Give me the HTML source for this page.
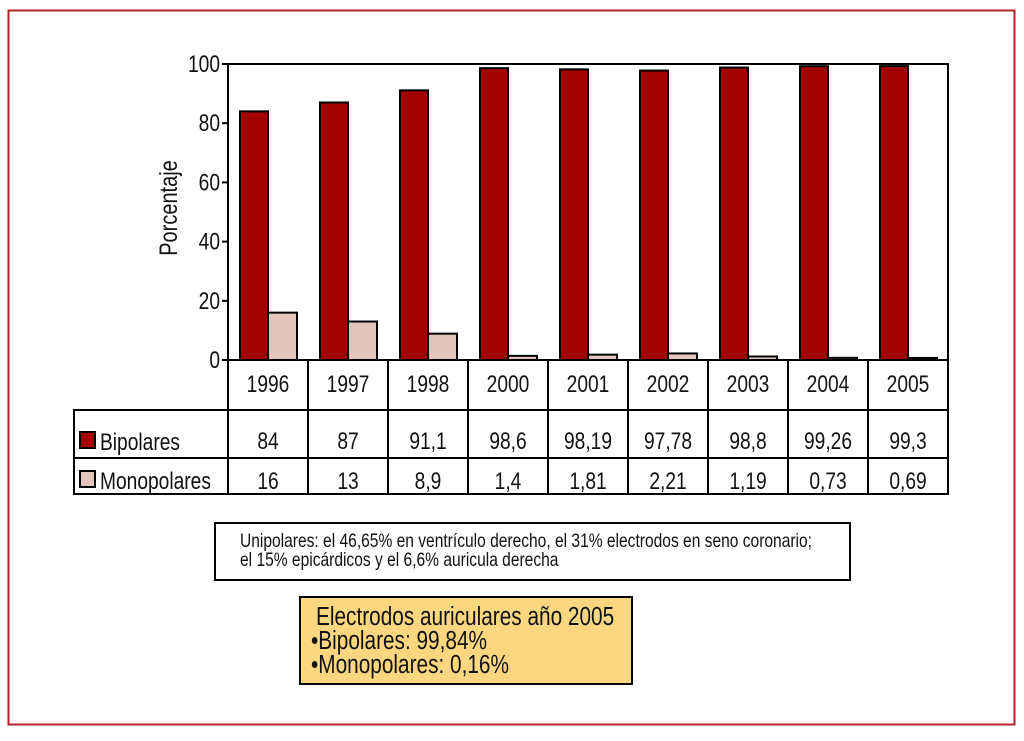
<!DOCTYPE html>
<html><head><meta charset="utf-8"><style>
body{margin:0;background:#fff;width:1024px;height:736px;overflow:hidden}
svg text{font-family:"Liberation Sans Narrow","Liberation Sans",sans-serif;fill:#111}
</style></head><body>
<svg width="1024" height="736">
<rect x="8.5" y="10.5" width="1006" height="714" fill="#fff" stroke="#b0232a" stroke-width="2"/>
<g id="plot"></g>
<rect x="215" y="523" width="635" height="57" fill="#fff" stroke="#000" stroke-width="2"/>
<text transform="translate(240,547) scale(0.82,1)" font-size="19">Unipolares: el 46,65% en ventrículo derecho, el 31% electrodos en seno coronario;</text>
<text transform="translate(240,566) scale(0.82,1)" font-size="19">el 15% epicárdicos y el 6,6% auricula derecha</text>
<rect x="300" y="597" width="332" height="87" fill="#fdd77f" stroke="#000" stroke-width="2"/>
<text transform="translate(316,625) scale(0.8,1)" font-size="26">Electrodos auriculares año 2005</text>
<text transform="translate(311,649) scale(0.8,1)" font-size="26">•Bipolares: 99,84%</text>
<text transform="translate(311,673) scale(0.8,1)" font-size="26">•Monopolares: 0,16%</text>
</svg>
<script>
const categories=["1996","1997","1998","2000","2001","2002","2003","2004","2005"];
const bipolares=[84,87,91.1,98.6,98.19,97.78,98.8,99.26,99.3];
const monopolares=[16,13,8.9,1.4,1.81,2.21,1.19,0.73,0.69];
const bipLabels=["84","87","91,1","98,6","98,19","97,78","98,8","99,26","99,3"];
const monLabels=["16","13","8,9","1,4","1,81","2,21","1,19","0,73","0,69"];
const yTicks=[0,20,40,60,80,100];
const NS="http://www.w3.org/2000/svg";
const g=document.getElementById('plot');
const X0=228,X1=948,Y0=360,Y1=64;
const bw=(X1-X0)/categories.length;
const y=v=>Y0-(v/100)*(Y0-Y1);
const x=i=>X0+i*bw;
const SX=0.8;
function mk(t,a,p){const e=document.createElementNS(NS,t);for(const k in a)e.setAttribute(k,a[k]);(p||g).appendChild(e);return e;}
function tx(px,py,str,size,anchor){const e=mk('text',{transform:`translate(${px},${py}) scale(${SX},1)`,'font-size':size,'text-anchor':anchor||'start'});e.textContent=str;return e;}
let r=mk('rect',{x:X0,y:Y1,width:X1-X0,height:Y0-Y1,fill:'#fff',stroke:'#000','stroke-width':2});


yTicks.forEach(v=>{
 let l=mk('line',{x1:X0-6,x2:X0,y1:y(v),y2:y(v),stroke:'#000','stroke-width':2});
 
 
 let t=tx(X0-8,y(v)+8,String(v),24,'end');
 
 
});
let yt=mk('text',{transform:'translate(177,208) rotate(-90) scale(0.8,1)','font-size':25,'text-anchor':'middle'});yt.textContent='Porcentaje';


categories.forEach((c,i)=>{
 let b=mk('rect',{x:x(i)+12,y:y(bipolares[i]),width:28,height:Y0-y(bipolares[i]),fill:'#a30000',stroke:'#000','stroke-width':2});
 
 
 let m=mk('rect',{x:x(i)+40,y:y(monopolares[i]),width:29,height:Y0-y(monopolares[i]),fill:'#e3c6bb',stroke:'#000','stroke-width':2});
 
 
});
const TL=74,R1=410,R2=458,R3=494;
let tb=mk('rect',{x:TL,y:R1,width:X1-TL,height:R3-R1,fill:'none',stroke:'#000','stroke-width':2});


mk('line',{x1:TL,x2:X1,y1:R2,y2:R2,stroke:'#000','stroke-width':2});
mk('line',{x1:X0,x2:X0,y1:Y0,y2:R3,stroke:'#000','stroke-width':2});
mk('line',{x1:X1,x2:X1,y1:Y0,y2:R3,stroke:'#000','stroke-width':2});
categories.forEach((c,i)=>{
 if(i>0)mk('line',{x1:x(i),x2:x(i),y1:Y0,y2:R3,stroke:'#000','stroke-width':2});
 const cx=x(i)+bw/2;
 let h=tx(cx,392,c,24,'middle');
 
 
 let a=tx(cx,449,bipLabels[i],24,'middle');
 
 
 let b=tx(cx,489,monLabels[i],24,'middle');
 
 
});
let s1=mk('rect',{x:80,y:432,width:15,height:16,fill:'#a30000',stroke:'#000','stroke-width':2});


let l1=tx(100,450,'Bipolares',24);


let s2=mk('rect',{x:80,y:471,width:15,height:16,fill:'#e3c6bb',stroke:'#000','stroke-width':2});


let l2=tx(100,489,'Monopolares',24);


</script>
</body></html>
